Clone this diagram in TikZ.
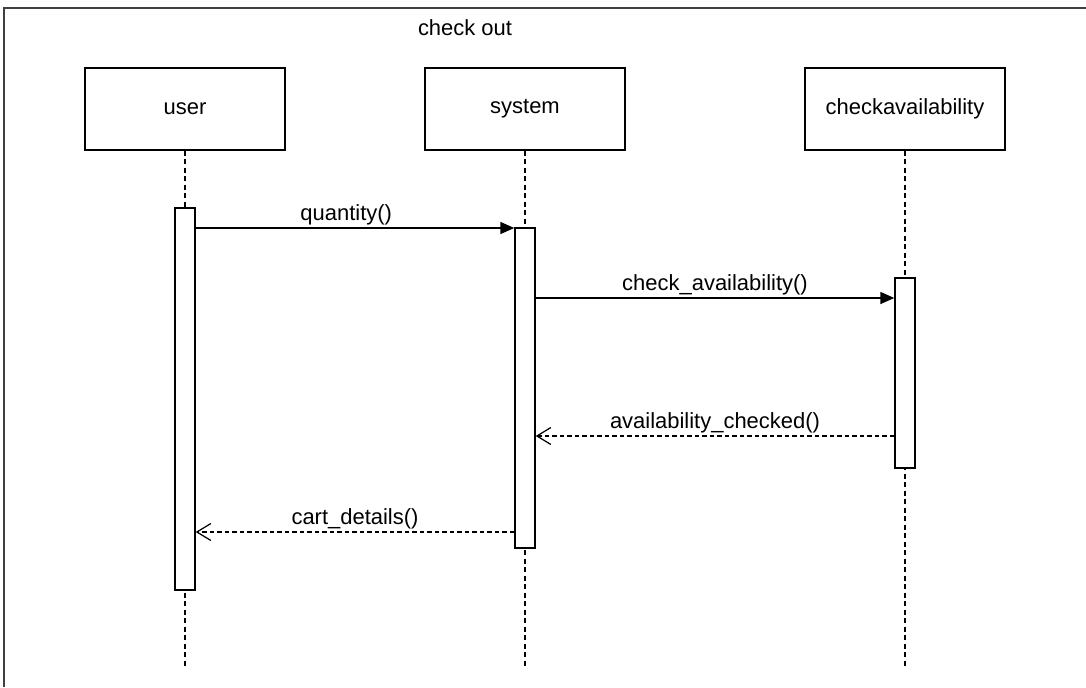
\documentclass[tikz,border=0pt]{standalone}
\usepackage{fontspec}
\setmainfont{Liberation Sans}
\usetikzlibrary{arrows.meta, calc, positioning}

\begin{document}
\begin{tikzpicture}[
x=0.02cm, y=-0.02cm,
every node/.style = {font=\fontsize{12.5}{14}\selectfont},
     head/.style = {draw, line width=0.8pt, minimum width=4cm, minimum height=1.64cm,
                    inner sep=0pt},
      act/.style = {draw, line width=0.8pt, fill=white, minimum width=0.4cm, inner sep=0pt},
     life/.style = {line width=0.7pt, dash pattern=on 1mm off 0.7mm},
     call/.style = {-{Triangle[length=2.8mm, width=2.4mm]}, line width=0.8pt},
      ret/.style = {-{Straight Barb[length=2.8mm, width=3.4mm]}, line width=0.7pt,
                    dash pattern=on 0.9mm off 0.6mm},
      lbl/.style = {above, inner sep=1.5pt}
                    ]
\useasboundingbox (0,0) rectangle (1086,687);
 % frame
\draw[line width=1.5pt, black!75] (1086,8) -- (4,8) -- (4,687);
\node (title) at (465,28) {check out};
 % heads
\node (user)  [head] at (185,109) {user};
\node (sys)   [head] at (525,109) {system};
\node (chk)   [head] at (905,109) {checkavailability};
\coordinate (user_end) at (185,668);
\coordinate (sys_end)  at (525,668);
\coordinate (chk_end)  at (905,668);
\draw[life] (user.south) -- (user_end);
\draw[life] (sys.south)  -- (sys_end);
\draw[life] (chk.south)  -- (chk_end);
 % activations
\node (user_act) [act, minimum height=7.64cm] at (185,399) {};
\node (sys_act)  [act, minimum height=6.4cm]  at (525,388) {};
\node (chk_act)  [act, minimum height=3.8cm]  at (905,373) {};
 % messages
\coordinate (m1) at (0,228);
\coordinate (m2) at (0,298);
\coordinate (m3) at (0,436);
\coordinate (m4) at (0,532);
\draw[call] (user_act.east |- m1) -- node[lbl, xshift=-5] {quantity()} (sys_act.west |- m1);
\draw[call] (sys_act.east |- m2) -- node[lbl] {check\_availability()} (chk_act.west |- m2);
\draw[ret]  (chk_act.west |- m3) -- node[lbl] {availability\_checked()} (sys_act.east |- m3);
\draw[ret]  (sys_act.west |- m4) -- node[lbl] {cart\_details()} (user_act.east |- m4);
\end{tikzpicture}
\end{document}
